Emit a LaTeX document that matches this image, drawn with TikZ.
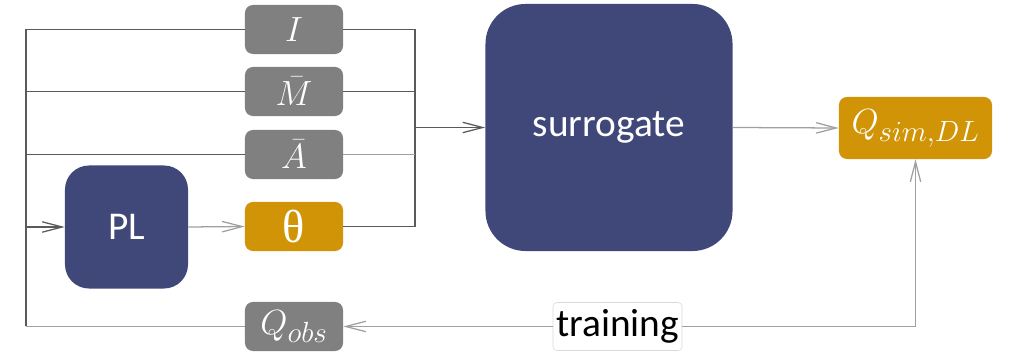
\documentclass[tikz,border=0pt]{standalone}
\usepackage{fontspec}
\setmainfont{Carlito}
\newfontfamily\thetafont{Liberation Serif}
\usetikzlibrary{arrows.meta}
\definecolor{navy}{RGB}{64,72,122}
\definecolor{gold}{RGB}{208,148,6}
\definecolor{boxgray}{RGB}{128,128,128}
\definecolor{darkline}{RGB}{90,90,90}
\definecolor{lightline}{RGB}{160,160,160}
\begin{document}
\begin{tikzpicture}[x=0.025cm,y=-0.025cm]
\tikzstyle{var}=[rounded corners=0.2cm,fill=boxgray,text=white,minimum width=2.45cm,minimum height=1.225cm,inner sep=0pt,font=\fontsize{32}{34}\selectfont]
\tikzstyle{param}=[var,fill=gold]
\tikzstyle{model}=[rounded corners=0.6cm,fill=navy,text=white,inner sep=0pt,font=\fontsize{28}{32}\selectfont]
\tikzstyle{edge} = [draw,line width=0.9pt,darkline]
\tikzstyle{lightedge} = [draw,line width=0.9pt,lightline]
\tikzstyle{arrow} = [-{Straight Barb[length=0.5cm,width=0.26cm,line width=0.9pt]}]
\useasboundingbox (0,0) rectangle (1010,352);
\node[var] (I) at (294,29.5) {$I$};
\node[var] (M) at (294,91.5) {$\bar{M}$};
\node[var] (A) at (294,154.5) {$\bar{A}$};
\node[param] (theta) at (294,226.5) {\thetafont\fontsize{33}{36}\selectfont θ};
\node[var] (Qobs) at (294,326.5) {$Q_{obs}$};
\node[model,minimum size=3.075cm] (PL) at (126.5,227) {PL};
\node[model,minimum size=6.175cm,rounded corners=1cm] (sur) at (609,127.5) {surrogate};
\node[param,minimum width=3.825cm,minimum height=1.55cm,font=\fontsize{29}{32}\selectfont] (Qsim) at (915.5,128) {$Q_{sim,DL}$};
\node[rounded corners=0.1cm,draw=black!15,fill=white,minimum width=3.225cm,minimum height=1.2cm,inner sep=0pt,font=\fontsize{28}{32}\selectfont] (train) at (617.5,326.5) {training};
\coordinate (bl) at (26,326.5);
\coordinate (rj) at (415,127.5);
\path[lightedge] (Qobs.west) -- (bl);
\path[edge] (bl) |- (I.west);
\path[edge] (M.west) -- (M.west -| bl);
\path[edge] (A.west) -- (A.west -| bl);
\path[edge,arrow] (bl |- PL.west) -- (PL.west);
\path[lightedge,arrow] (PL.east) -- (theta.west);
\path[edge] (I.east) -| (rj) |- (theta.east);
\path[edge] (M.east) -- (M.east -| rj);
\path[lightedge] (A.east) -- (A.east -| rj);
\path[edge,arrow] (rj) -- (sur.west);
\path[lightedge,arrow] (sur.east) -- (Qsim.west);
\path[lightedge,arrow] (train.east) -| (Qsim.south);
\path[lightedge,arrow] (train.west) -- (Qobs.east);
\end{tikzpicture}
\end{document}
